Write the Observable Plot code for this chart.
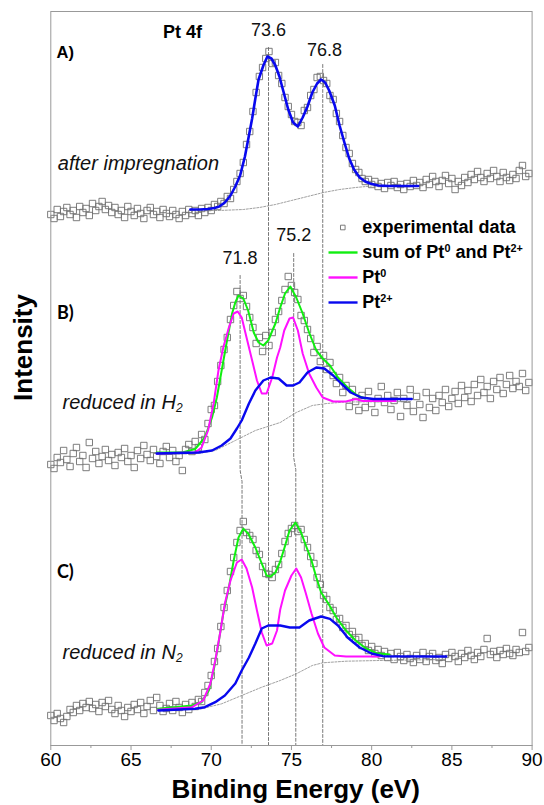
<!DOCTYPE html>
<html>
<head>
<meta charset="utf-8">
<script src="https://cdn.jsdelivr.net/npm/d3@7"></script>
<script src="https://cdn.jsdelivr.net/npm/@observablehq/plot@0.6"></script>
<style>
  html, body { margin: 0; padding: 0; background: #fff; }
  svg { display: block; }
</style>
</head>
<body>
<div id="chart"></div>
<script>
// ---- experimental data (binding energy eV, intensity a.u.) ----
const expA = [
[60.0,533],[60.2,529],[60.4,538],[60.6,531],[60.8,536],[61.0,540],[61.2,533],[61.4,537],[61.6,530],[61.8,541],
[62.0,535],[62.2,539],[62.4,532],[62.6,544],[62.8,537],[63.0,541],[63.2,546],[63.4,538],[63.6,542],[63.8,535],
[64.0,540],[64.2,533],[64.4,537],[64.6,530],[64.8,541],[65.0,536],[65.2,532],[65.4,539],[65.6,534],[65.8,529],
[66.0,537],[66.2,540],[66.4,533],[66.6,536],[66.8,530],[67.0,538],[67.2,534],[67.4,531],[67.6,537],[67.8,533],
[68.0,529],[68.2,536],[68.4,532],[68.6,538],[68.8,534],[69.0,537],[69.2,532],[69.4,539],[69.6,535],[69.8,540],
[70.0,537],[70.2,543],[70.4,541],[70.6,546],[70.8,544],[71.0,551],[71.2,549],[71.4,558],[71.6,566],[71.8,574],
[72.0,585],[72.2,603],[72.4,616],[72.6,636],[72.8,655],[73.0,671],[73.2,680],[73.4,689],[73.6,696],[73.8,684],
[74.0,685],[74.2,672],[74.4,664],[74.6,650],[74.8,641],[75.0,633],[75.2,626],[75.4,625],[75.6,622],[75.8,637],
[76.0,640],[76.2,652],[76.4,658],[76.6,670],[76.8,671],[77.0,667],[77.2,664],[77.4,652],[77.6,648],[77.8,634],
[78.0,626],[78.2,612],[78.4,600],[78.6,594],[78.8,584],[79.0,578],[79.2,575],[79.4,569],[79.6,566],[79.8,568],
[80.0,563],[80.2,566],[80.4,561],[80.6,564],[80.8,559],[81.0,565],[81.2,562],[81.4,566],[81.6,560],[81.8,563],
[82.0,558],[82.2,564],[82.4,561],[82.6,567],[82.8,562],[83.0,565],[83.2,560],[83.4,568],[83.6,563],[83.8,571],
[84.0,566],[84.2,561],[84.4,567],[84.6,572],[84.8,564],[85.0,569],[85.2,558],[85.4,566],[85.6,562],[85.8,570],
[86.0,565],[86.2,573],[86.4,568],[86.6,576],[86.8,570],[87.0,566],[87.2,574],[87.4,569],[87.6,577],[87.8,571],
[88.0,566],[88.2,575],[88.4,570],[88.6,567],[88.8,573],[89.0,569],[89.2,577],[89.4,582],[89.6,571],[89.8,574]
];
const expB = [
[60.0,283],[60.2,279],[60.4,290],[60.6,285],[60.8,297],[61.0,288],[61.2,281],[61.4,294],[61.6,300],[61.8,286],
[62.0,292],[62.2,280],[62.4,305],[62.6,289],[62.8,296],[63.0,284],[63.2,291],[63.4,298],[63.6,287],[63.8,293],
[64.0,282],[64.2,295],[64.4,290],[64.6,299],[64.8,286],[65.0,292],[65.2,280],[65.4,297],[65.6,289],[65.8,302],
[66.0,293],[66.2,287],[66.4,298],[66.6,291],[66.8,284],[67.0,296],[67.2,301],[67.4,290],[67.6,297],[67.8,286],
[68.0,292],[68.2,277],[68.4,298],[68.6,303],[68.8,296],[69.0,306],[69.2,300],[69.4,313],[69.6,308],[69.8,324],
[70.0,338],[70.2,342],[70.4,366],[70.6,382],[70.8,398],[71.0,410],[71.2,428],[71.4,442],[71.6,456],[71.8,449],
[72.0,452],[72.2,441],[72.4,430],[72.6,420],[72.8,404],[73.0,410],[73.2,396],[73.4,412],[73.6,402],[73.8,415],
[74.0,428],[74.2,436],[74.4,447],[74.6,458],[74.8,471],[75.0,462],[75.2,455],[75.4,448],[75.6,432],[75.8,427],
[76.0,418],[76.2,409],[76.4,395],[76.6,401],[76.8,386],[77.0,392],[77.2,378],[77.4,385],[77.6,372],[77.8,364],
[78.0,370],[78.2,355],[78.4,362],[78.6,341],[78.8,358],[79.0,346],[79.2,337],[79.4,352],[79.6,340],[79.8,356],
[80.0,344],[80.2,335],[80.4,349],[80.6,361],[80.8,345],[81.0,352],[81.2,338],[81.4,347],[81.6,355],[81.8,331],
[82.0,349],[82.2,342],[82.4,358],[82.6,336],[82.8,351],[83.0,343],[83.2,330],[83.4,355],[83.6,340],[83.8,349],
[84.0,337],[84.2,352],[84.4,345],[84.6,358],[84.8,341],[85.0,349],[85.2,356],[85.4,344],[85.6,362],[85.8,350],
[86.0,357],[86.2,346],[86.4,363],[86.6,352],[86.8,368],[87.0,355],[87.2,361],[87.4,349],[87.6,366],[87.8,358],
[88.0,370],[88.2,354],[88.4,363],[88.6,372],[88.8,359],[89.0,366],[89.2,361],[89.4,374],[89.6,357],[89.8,365]
];
const expC = [
[60.0,32],[60.2,27],[60.4,34],[60.6,29],[60.8,25],[61.0,31],[61.2,38],[61.4,35],[61.6,42],[61.8,37],
[62.0,44],[62.2,40],[62.4,46],[62.6,39],[62.8,43],[63.0,36],[63.2,45],[63.4,41],[63.6,47],[63.8,38],
[64.0,34],[64.2,42],[64.4,37],[64.6,31],[64.8,40],[65.0,36],[65.2,43],[65.4,38],[65.6,45],[65.8,34],
[66.0,41],[66.2,47],[66.4,37],[66.6,50],[66.8,42],[67.0,36],[67.2,39],[67.4,44],[67.6,37],[67.8,46],
[68.0,40],[68.2,35],[68.4,43],[68.6,38],[68.8,45],[69.0,41],[69.2,48],[69.4,46],[69.6,55],[69.8,62],
[70.0,72],[70.2,86],[70.4,99],[70.6,121],[70.8,140],[71.0,157],[71.2,176],[71.4,190],[71.6,205],[71.8,217],
[72.0,226],[72.2,215],[72.4,212],[72.6,208],[72.8,197],[73.0,193],[73.2,181],[73.4,174],[73.6,173],[73.8,170],
[74.0,178],[74.2,183],[74.4,194],[74.6,206],[74.8,214],[75.0,219],[75.2,222],[75.4,216],[75.6,218],[75.8,208],
[76.0,200],[76.2,191],[76.4,184],[76.6,170],[76.8,163],[77.0,152],[77.2,148],[77.4,140],[77.6,137],[77.8,128],
[78.0,129],[78.2,120],[78.4,122],[78.6,113],[78.8,116],[79.0,108],[79.2,110],[79.4,102],[79.6,104],[79.8,97],
[80.0,101],[80.2,94],[80.4,98],[80.6,92],[80.8,96],[81.0,90],[81.2,94],[81.4,88],[81.6,95],[81.8,91],
[82.0,87],[82.2,93],[82.4,89],[82.6,85],[82.8,92],[83.0,88],[83.2,95],[83.4,86],[83.6,91],[83.8,94],
[84.0,87],[84.2,90],[84.4,84],[84.6,93],[84.8,89],[85.0,95],[85.2,91],[85.4,86],[85.6,94],[85.8,90],
[86.0,97],[86.2,92],[86.4,88],[86.6,95],[86.8,91],[87.0,98],[87.2,109],[87.4,93],[87.6,96],[87.8,90],
[88.0,97],[88.2,93],[88.4,99],[88.6,94],[88.8,92],[89.0,98],[89.2,95],[89.4,115],[89.6,96],[89.8,100]
];

// ---- fitted components ----
const pt2A = [[68.7,538],[69.3,538],[69.8,538.5],[70.2,539.5],[70.5,541],[70.85,545],[71.2,552],[71.5,561],[71.8,572],[72.1,591],[72.35,612],[72.55,629],[72.75,649],[72.95,668],[73.25,682],[73.5,691],[73.75,689],[74.0,682],[74.25,671],[74.5,656],[74.8,638],[75.1,625],[75.4,621],[75.7,630],[76.0,641],[76.3,655],[76.6,664],[76.85,668],[77.1,665],[77.35,657],[77.7,642],[78.0,622],[78.3,605],[78.6,589],[78.9,578],[79.25,570],[79.6,566],[79.9,564],[80.4,562],[81.0,561.5],[82.9,561.5]];
const bgA = [[68.7,537],[70.5,537],[72.0,538],[73.0,540],[74.0,543],[75.0,547],[76.0,551],[77.0,555],[78.0,558],[79.0,560],[80.0,561.5],[82.9,562]];

const sumB = [[66.6,295],[68.2,295],[69.0,298.5],[69.6,310],[70.05,330],[70.35,350],[70.65,377],[70.95,404],[71.3,434],[71.5,445],[71.7,452],[72.0,449],[72.3,437],[72.65,415],[72.95,405],[73.25,402],[73.55,407],[74.0,424],[74.3,440],[74.6,454],[74.93,461],[75.3,450],[75.7,434],[76.1,415],[76.55,397],[76.95,389],[77.4,382],[77.9,370],[78.5,360],[79.1,352],[79.6,349]];
const pt0B = [[66.6,294],[69.0,295],[69.4,300],[69.8,317],[70.15,344],[70.45,377],[70.75,400],[71.1,420],[71.4,434],[71.65,436],[71.9,430],[72.2,410],[72.55,387],[72.85,367],[73.15,354],[73.45,354],[73.8,370],[74.1,390],[74.3,400],[74.55,417],[74.88,429],[75.1,430],[75.4,417],[75.7,394],[76.1,374],[76.55,360],[76.95,350],[77.6,346],[78.4,346],[79.0,348.5],[79.45,346.5],[81.5,346.5]];
const pt2B = [[66.6,294],[69.2,295],[70.05,297],[70.65,302],[71.2,309],[71.6,319],[71.9,327],[72.35,344],[72.75,357],[73.25,367],[73.7,370],[74.2,369],[74.7,362],[75.1,362],[75.5,365],[76.0,375],[76.55,380],[77.05,379],[77.6,372],[78.1,364],[78.7,355],[79.35,350],[80.1,348.5],[82.5,348.5]];
const bgB = [[66.6,293],[69.2,294],[70.25,297],[71.5,307],[72.75,317],[74.3,325],[75.3,335],[76.3,342],[77.2,344],[78.4,345.5],[82.5,346]];

const sumC = [[66.7,38.7],[68.8,42],[69.4,45.3],[69.85,57],[70.15,77],[70.45,104],[70.75,134],[71.1,160],[71.4,187],[71.7,210],[72.0,218.7],[72.3,214],[72.75,200],[73.15,184],[73.45,172],[73.7,171],[74.0,175],[74.3,186],[74.57,200],[74.88,217],[75.25,225],[75.6,215],[75.9,202],[76.25,187],[76.55,170],[76.85,155],[77.3,144],[77.8,130],[78.4,117],[79.0,107],[79.65,99],[80.3,94.3],[81.1,93]];
const pt0C = [[66.7,37.7],[68.8,40.3],[69.5,47],[69.95,64],[70.25,87],[70.55,114],[70.85,144],[71.2,167],[71.6,185],[71.9,188],[72.2,179],[72.55,160],[72.85,137],[73.15,115],[73.45,102],[73.8,104],[74.1,117],[74.3,138],[74.6,157],[75.0,172],[75.3,179],[75.6,170],[75.9,154],[76.25,134],[76.65,114],[77.05,100],[77.7,92],[78.4,91],[80.5,91]];
const pt2C = [[66.7,37],[69.0,38.7],[69.6,40.3],[70.25,45.3],[70.85,52],[71.5,64],[71.9,77],[72.35,90],[72.75,104],[73.15,119],[73.55,122],[74.3,122],[74.9,120],[75.5,120],[76.1,127],[76.85,131],[77.4,128.7],[77.9,122],[78.5,110],[79.25,100],[80.0,94],[80.7,91.3],[84.65,91]];
const bgC = [[66.7,37],[69.4,38.7],[70.65,43.7],[71.9,52],[73.15,60.3],[74.3,67],[75.3,73.7],[76.3,82],[76.95,84.7],[78.4,86.3],[80.5,87],[84.65,88]];

// ---- peak reference lines ----
const peakLabels = ["71.8", "73.6", "75.2", "76.8"];
const peakLabelPos = [[71.79, 489], [73.57, 717], [75.14, 512], [77.06, 697]];
const refLines = [
  [[71.8, 472], [71.8, 277], [71.92, 266], [71.92, 2]],
  [[73.57, 700], [73.57, 2]],
  [[75.14, 494], [75.14, 290], [75.27, 278], [75.27, 2]],
  [[76.95, 683], [76.95, 2]]
];

// ---- axis ticks ----
const majorTicks = [60, 65, 70, 75, 80, 85, 90];
const minorTicks = [62.5, 67.5, 72.5, 77.5, 82.5, 87.5];

// ---- legend ----
const legendLabels = ["experimental data", "sum of Pt^{0} and Pt^{2+}", "Pt^{0}", "Pt^{2+}"];
const legendColors = [null, "#10ee10", "#ff10ff", "#0808ee"];

const GREEN = "#10ee10", MAGENTA = "#ff10ff", BLUE = "#0808ee";
const X = d => d[0], Y = d => d[1];

// legend layout (in chart coordinates)
const legX0 = 77.31, legX1 = 79.12, legTx = 79.42, legSym = 78.2;
const legRows = legendLabels.map((l, i) => ({label: l, color: legendColors[i], y: 520 - i * 25}));

const fitLine = (data, color, w) => Plot.line(data, {x: X, y: Y, stroke: color, strokeWidth: w});
const bgLine = data => Plot.line(data, {x: X, y: Y, stroke: "#888", strokeWidth: 0.8, strokeDasharray: "2,1.5"});
const expDots = data => Plot.dot(data, {x: X, y: Y, symbol: "square", r: 3.6, stroke: "#6e6e6e", strokeWidth: 0.9, fill: "none"});

const chart = Plot.plot({
  width: 544,
  height: 805,
  marginLeft: 50.3,
  marginRight: 12.4,
  marginTop: 11,
  marginBottom: 60,
  style: {fontFamily: "'Liberation Sans', Arial, sans-serif", background: "#fff", overflow: "visible"},
  x: {domain: [60, 90]},
  y: {domain: [2, 736], axis: null},
  marks: [
    // reference dashed lines
    ...refLines.map(l => Plot.line(l, {x: X, y: Y, stroke: "#555", strokeWidth: 0.8, strokeDasharray: "3,2"})),
    // experimental
    expDots(expA), expDots(expB), expDots(expC),
    // backgrounds
    bgLine(bgA), bgLine(bgB), bgLine(bgC),
    // fits
    fitLine(sumB, GREEN, 2), fitLine(pt0B, MAGENTA, 2), fitLine(pt2B, BLUE, 2.4),
    fitLine(sumC, GREEN, 2), fitLine(pt0C, MAGENTA, 2), fitLine(pt2C, BLUE, 2.4),
    fitLine(pt2A, BLUE, 2.6),
    // frame and axis
    Plot.frame({stroke: "#999", strokeWidth: 1}),
    Plot.axisX({ticks: majorTicks, tickSize: 5, tickPadding: 2, fontSize: 19, stroke: "#999", fill: "#000", tickFormat: d => String(d)}),
    Plot.axisX({ticks: minorTicks, tickSize: 3, stroke: "#999", tickFormat: () => ""}),
    // peak labels
    Plot.text(peakLabels, {x: (d, i) => peakLabelPos[i][0], y: (d, i) => peakLabelPos[i][1], text: d => d, fontSize: 18, fill: "#111"}),
    // panel annotations
    Plot.text(["Pt 4f"], {x: 68.21, y: 715, text: d => d, fontSize: 18, fontWeight: "bold", fill: "#000"}),
    Plot.text(["A)"], {x: 60.36, y: 695, text: d => d, textAnchor: "start", fontSize: 16.5, fontWeight: "bold", fill: "#000"}),
    Plot.text(["B)"], {x: 60.38, y: 434, text: d => d, textAnchor: "start", fontSize: 18, fontWeight: "bold", fontFamily: "Lato, 'Liberation Sans', sans-serif", fill: "#000"}),
    Plot.text(["C)"], {x: 60.38, y: 175, text: d => d, textAnchor: "start", fontSize: 18, fontWeight: "bold", fontFamily: "Lato, 'Liberation Sans', sans-serif", fill: "#000"}),
    Plot.text(["after impregnation"], {x: 60.44, y: 583.5, text: d => d, textAnchor: "start", fontSize: 20, fontStyle: "italic", fill: "#111"}),
    Plot.text(["reduced in H_{2}"], {x: 60.73, y: 345, text: d => d, textAnchor: "start", fontSize: 20, fontStyle: "italic", fill: "#111"}),
    Plot.text(["reduced in N_{2}"], {x: 60.73, y: 95, text: d => d, textAnchor: "start", fontSize: 20, fontStyle: "italic", fill: "#111"}),
    // legend
    Plot.dot(legRows.filter(d => !d.color), {x: legSym, y: "y", symbol: "square", r: 2.6, stroke: "#6e6e6e", strokeWidth: 0.9, fill: "none"}),
    Plot.link(legRows.filter(d => d.color), {x1: legX0, x2: legX1, y1: "y", y2: "y", stroke: "color", strokeWidth: 2.4}),
    Plot.text(legRows, {x: legTx, y: "y", text: "label", textAnchor: "start", fontSize: 18, fontWeight: "bold", fill: "#000"}),
    // axis titles (placed just outside the frame)
    Plot.text(["Binding Energy (eV)"], {x: 75.26, y: -42, text: d => d, fontSize: 26, fontWeight: "bold", fill: "#000"}),
    Plot.text(["Intensity"], {x: 58.3, y: 400, rotate: -90, text: d => d, fontSize: 26, fontWeight: "bold", fill: "#000"})
  ]
});

// convert ^{..} and _{..} markup into tspans
const NS = "http://www.w3.org/2000/svg";
chart.querySelectorAll("text").forEach(t => {
  const s = t.textContent;
  if (!/[\^_]\{/.test(s)) return;
  while (t.firstChild) t.removeChild(t.firstChild);
  const re = /([\^_])\{([^}]*)\}|([^\^_]+)/g;
  let m;
  while ((m = re.exec(s))) {
    const ts = document.createElementNS(NS, "tspan");
    if (m[3] !== undefined) {
      ts.textContent = m[3];
    } else {
      ts.textContent = m[2];
      ts.setAttribute("font-size", "0.6em");
      ts.setAttribute("baseline-shift", m[1] === "^" ? "55%" : "-25%");
    }
    t.appendChild(ts);
  }
});

document.getElementById("chart").appendChild(chart);
</script>
</body>
</html>
